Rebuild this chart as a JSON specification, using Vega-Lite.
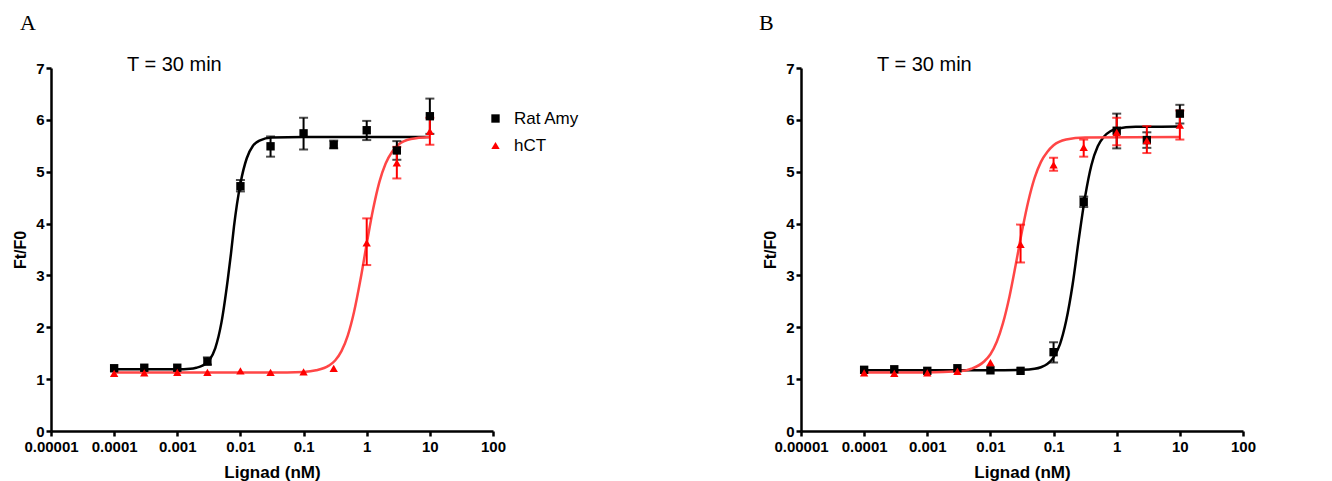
{
  "$schema": "https://vega.github.io/schema/vega-lite/v6.json",
  "padding": {"left": 12, "top": 12, "right": 5, "bottom": 2},
  "bounds": "flush",
  "spacing": 308,
  "config": {
    "view": {"stroke": null},
    "font": "Liberation Sans",
    "axis": {
      "grid": false,
      "domainColor": "#000000",
      "domainWidth": 2.5,
      "tickColor": "#000000",
      "tickWidth": 2.5,
      "tickSize": 5,
      "labelColor": "#000000",
      "labelFont": "Liberation Sans",
      "labelFontSize": 15,
      "labelFontWeight": "bold",
      "labelPadding": 2,
      "titleColor": "#000000",
      "titleFont": "Liberation Sans",
      "titleFontWeight": "bold"
    },
    "axisX": {"titleFontSize": 17, "titlePadding": 10, "labelPadding": 3, "labelFlush": false, "labelOverlap": false},
    "axisY": {"titleFontSize": 16, "titlePadding": 7},
    "legend": {
      "orient": "none",
      "legendX": 436,
      "legendY": 42,
      "padding": 0,
      "labelFont": "Liberation Sans",
      "labelFontSize": 17,
      "labelColor": "#000000",
      "labelOffset": 10,
      "rowPadding": 9,
      "symbolSize": 70,
      "symbolStrokeWidth": 0,
      "symbolOpacity": 1
    }
  },
  "datasets": {
    "ptsA": [
      {"series": "Rat Amy", "conc": 0.0001, "y": 1.21},
      {"series": "Rat Amy", "conc": 0.0003, "y": 1.22},
      {"series": "Rat Amy", "conc": 0.001, "y": 1.22},
      {"series": "Rat Amy", "conc": 0.003, "y": 1.34, "lo": 1.28, "hi": 1.42},
      {"series": "Rat Amy", "conc": 0.01, "y": 4.72, "lo": 4.62, "hi": 4.84},
      {"series": "Rat Amy", "conc": 0.03, "y": 5.49, "lo": 5.29, "hi": 5.68},
      {"series": "Rat Amy", "conc": 0.1, "y": 5.74, "lo": 5.43, "hi": 6.04},
      {"series": "Rat Amy", "conc": 0.3, "y": 5.52, "lo": 5.45, "hi": 5.6},
      {"series": "Rat Amy", "conc": 1, "y": 5.8, "lo": 5.61, "hi": 5.98},
      {"series": "Rat Amy", "conc": 3, "y": 5.41, "lo": 5.23, "hi": 5.59},
      {"series": "Rat Amy", "conc": 10, "y": 6.07, "lo": 5.73, "hi": 6.41},
      {"series": "hCT", "conc": 0.0001, "y": 1.11},
      {"series": "hCT", "conc": 0.0003, "y": 1.12},
      {"series": "hCT", "conc": 0.001, "y": 1.13},
      {"series": "hCT", "conc": 0.003, "y": 1.13},
      {"series": "hCT", "conc": 0.01, "y": 1.16},
      {"series": "hCT", "conc": 0.03, "y": 1.13},
      {"series": "hCT", "conc": 0.1, "y": 1.14},
      {"series": "hCT", "conc": 0.3, "y": 1.21},
      {"series": "hCT", "conc": 1, "y": 3.63, "lo": 3.2, "hi": 4.1},
      {"series": "hCT", "conc": 3, "y": 5.17, "lo": 4.87, "hi": 5.48},
      {"series": "hCT", "conc": 10, "y": 5.78, "lo": 5.52, "hi": 6.04}
    ],
    "ptsB": [
      {"series": "Rat Amy", "conc": 0.0001, "y": 1.18},
      {"series": "Rat Amy", "conc": 0.0003, "y": 1.19},
      {"series": "Rat Amy", "conc": 0.001, "y": 1.16},
      {"series": "Rat Amy", "conc": 0.003, "y": 1.21},
      {"series": "Rat Amy", "conc": 0.01, "y": 1.17},
      {"series": "Rat Amy", "conc": 0.03, "y": 1.16},
      {"series": "Rat Amy", "conc": 0.1, "y": 1.52, "lo": 1.32, "hi": 1.71},
      {"series": "Rat Amy", "conc": 0.3, "y": 4.42, "lo": 4.32, "hi": 4.52},
      {"series": "Rat Amy", "conc": 1, "y": 5.79, "lo": 5.45, "hi": 6.12},
      {"series": "Rat Amy", "conc": 3, "y": 5.61, "lo": 5.46, "hi": 5.76},
      {"series": "Rat Amy", "conc": 10, "y": 6.12, "lo": 5.93, "hi": 6.29},
      {"series": "hCT", "conc": 0.0001, "y": 1.12},
      {"series": "hCT", "conc": 0.0003, "y": 1.11},
      {"series": "hCT", "conc": 0.001, "y": 1.12},
      {"series": "hCT", "conc": 0.003, "y": 1.15},
      {"series": "hCT", "conc": 0.01, "y": 1.32},
      {"series": "hCT", "conc": 0.03, "y": 3.6, "lo": 3.25, "hi": 3.98},
      {"series": "hCT", "conc": 0.1, "y": 5.13, "lo": 5.02, "hi": 5.27},
      {"series": "hCT", "conc": 0.3, "y": 5.47, "lo": 5.29, "hi": 5.62},
      {"series": "hCT", "conc": 1, "y": 5.76, "lo": 5.51, "hi": 6.04},
      {"series": "hCT", "conc": 3, "y": 5.6, "lo": 5.36, "hi": 5.88},
      {"series": "hCT", "conc": 10, "y": 5.9, "lo": 5.62, "hi": 6.18}
    ],
    "fitA": [
      {"series": "Rat Amy", "conc": 0.0001, "y": 1.19},
      {"series": "Rat Amy", "conc": 0.001, "y": 1.19},
      {"series": "Rat Amy", "conc": 0.0016, "y": 1.2},
      {"series": "Rat Amy", "conc": 0.002, "y": 1.22},
      {"series": "Rat Amy", "conc": 0.0025, "y": 1.26},
      {"series": "Rat Amy", "conc": 0.0032, "y": 1.36},
      {"series": "Rat Amy", "conc": 0.004, "y": 1.6},
      {"series": "Rat Amy", "conc": 0.005, "y": 2.09},
      {"series": "Rat Amy", "conc": 0.0063, "y": 2.92},
      {"series": "Rat Amy", "conc": 0.0071, "y": 3.43},
      {"series": "Rat Amy", "conc": 0.0079, "y": 3.94},
      {"series": "Rat Amy", "conc": 0.01, "y": 4.77},
      {"series": "Rat Amy", "conc": 0.0126, "y": 5.26},
      {"series": "Rat Amy", "conc": 0.0158, "y": 5.5},
      {"series": "Rat Amy", "conc": 0.02, "y": 5.6},
      {"series": "Rat Amy", "conc": 0.0316, "y": 5.66},
      {"series": "Rat Amy", "conc": 0.1, "y": 5.67},
      {"series": "Rat Amy", "conc": 10, "y": 5.67},
      {"series": "hCT", "conc": 0.0001, "y": 1.13},
      {"series": "hCT", "conc": 0.03, "y": 1.13},
      {"series": "hCT", "conc": 0.1, "y": 1.14},
      {"series": "hCT", "conc": 0.158, "y": 1.17},
      {"series": "hCT", "conc": 0.251, "y": 1.26},
      {"series": "hCT", "conc": 0.316, "y": 1.36},
      {"series": "hCT", "conc": 0.398, "y": 1.54},
      {"series": "hCT", "conc": 0.501, "y": 1.84},
      {"series": "hCT", "conc": 0.631, "y": 2.3},
      {"series": "hCT", "conc": 0.794, "y": 2.91},
      {"series": "hCT", "conc": 1.0, "y": 3.61},
      {"series": "hCT", "conc": 1.259, "y": 4.27},
      {"series": "hCT", "conc": 1.585, "y": 4.8},
      {"series": "hCT", "conc": 1.995, "y": 5.16},
      {"series": "hCT", "conc": 2.512, "y": 5.38},
      {"series": "hCT", "conc": 3.162, "y": 5.52},
      {"series": "hCT", "conc": 5.012, "y": 5.63},
      {"series": "hCT", "conc": 10, "y": 5.67}
    ],
    "fitB": [
      {"series": "Rat Amy", "conc": 0.0001, "y": 1.17},
      {"series": "Rat Amy", "conc": 0.01, "y": 1.17},
      {"series": "Rat Amy", "conc": 0.0316, "y": 1.18},
      {"series": "Rat Amy", "conc": 0.0501, "y": 1.2},
      {"series": "Rat Amy", "conc": 0.0631, "y": 1.23},
      {"series": "Rat Amy", "conc": 0.0794, "y": 1.29},
      {"series": "Rat Amy", "conc": 0.1, "y": 1.42},
      {"series": "Rat Amy", "conc": 0.126, "y": 1.67},
      {"series": "Rat Amy", "conc": 0.158, "y": 2.12},
      {"series": "Rat Amy", "conc": 0.2, "y": 2.82},
      {"series": "Rat Amy", "conc": 0.251, "y": 3.7},
      {"series": "Rat Amy", "conc": 0.316, "y": 4.52},
      {"series": "Rat Amy", "conc": 0.398, "y": 5.13},
      {"series": "Rat Amy", "conc": 0.501, "y": 5.49},
      {"series": "Rat Amy", "conc": 0.631, "y": 5.68},
      {"series": "Rat Amy", "conc": 0.794, "y": 5.78},
      {"series": "Rat Amy", "conc": 1.0, "y": 5.83},
      {"series": "Rat Amy", "conc": 2.0, "y": 5.866},
      {"series": "Rat Amy", "conc": 10, "y": 5.87},
      {"series": "hCT", "conc": 0.0001, "y": 1.13},
      {"series": "hCT", "conc": 0.001, "y": 1.13},
      {"series": "hCT", "conc": 0.00316, "y": 1.15},
      {"series": "hCT", "conc": 0.00501, "y": 1.2},
      {"series": "hCT", "conc": 0.00794, "y": 1.34},
      {"series": "hCT", "conc": 0.01, "y": 1.48},
      {"series": "hCT", "conc": 0.0126, "y": 1.72},
      {"series": "hCT", "conc": 0.0158, "y": 2.08},
      {"series": "hCT", "conc": 0.02, "y": 2.59},
      {"series": "hCT", "conc": 0.0251, "y": 3.2},
      {"series": "hCT", "conc": 0.0316, "y": 3.85},
      {"series": "hCT", "conc": 0.0398, "y": 4.43},
      {"series": "hCT", "conc": 0.0501, "y": 4.88},
      {"series": "hCT", "conc": 0.0631, "y": 5.19},
      {"series": "hCT", "conc": 0.0794, "y": 5.38},
      {"series": "hCT", "conc": 0.1, "y": 5.51},
      {"series": "hCT", "conc": 0.158, "y": 5.62},
      {"series": "hCT", "conc": 0.316, "y": 5.66},
      {"series": "hCT", "conc": 10, "y": 5.67}
    ]
  },
  "hconcat": [
    {
      "width": 442,
      "height": 363,
      "title": {"text": "A", "anchor": "start", "frame": "group", "font": "Liberation Serif", "fontSize": 22, "fontWeight": "normal", "color": "#000000", "dx": -31, "baseline": "alphabetic", "offset": 3},
      "layer": [
        {
          "data": {"name": "fitA"},
          "transform": [{"filter": "datum.series === 'Rat Amy'"}],
          "mark": {"type": "line", "strokeWidth": 2.5, "interpolate": "monotone", "color": "#000000"},
          "encoding": {
            "x": {"field": "conc", "type": "quantitative", "title": "Lignad (nM)", "scale": {"type": "log", "domain": [0.00001, 100], "nice": false}, "axis": {"values": [0.00001, 0.0001, 0.001, 0.01, 0.1, 1, 10, 100], "format": "~g"}},
            "y": {"field": "y", "type": "quantitative", "title": "Ft/F0", "scale": {"domain": [0, 7], "nice": false}, "axis": {"values": [0, 1, 2, 3, 4, 5, 6, 7]}}
          }
        },
        {
          "data": {"name": "fitA"},
          "transform": [{"filter": "datum.series === 'hCT'"}],
          "mark": {"type": "line", "strokeWidth": 2.5, "interpolate": "monotone", "color": "#ff4646"},
          "encoding": {
            "x": {"field": "conc", "type": "quantitative", "title": "Lignad (nM)", "scale": {"type": "log", "domain": [0.00001, 100], "nice": false}, "axis": {"values": [0.00001, 0.0001, 0.001, 0.01, 0.1, 1, 10, 100], "format": "~g"}},
            "y": {"field": "y", "type": "quantitative", "title": "Ft/F0", "scale": {"domain": [0, 7], "nice": false}, "axis": {"values": [0, 1, 2, 3, 4, 5, 6, 7]}}
          }
        },
        {
          "data": {"name": "ptsA"},
          "transform": [{"filter": "isValid(datum.lo) && datum.series === 'Rat Amy'"}],
          "mark": {"type": "errorbar", "ticks": {"size": 9, "thickness": 2, "color": "#000000"}, "rule": {"strokeWidth": 2, "color": "#000000"}},
          "encoding": {
            "x": {"field": "conc", "type": "quantitative", "title": "Lignad (nM)", "scale": {"type": "log", "domain": [0.00001, 100], "nice": false}, "axis": {"values": [0.00001, 0.0001, 0.001, 0.01, 0.1, 1, 10, 100], "format": "~g"}},
            "y": {"field": "lo", "type": "quantitative", "title": "Ft/F0", "scale": {"domain": [0, 7], "nice": false}, "axis": {"values": [0, 1, 2, 3, 4, 5, 6, 7]}},
            "y2": {"field": "hi"}
          }
        },
        {
          "data": {"name": "ptsA"},
          "transform": [{"filter": "isValid(datum.lo) && datum.series === 'hCT'"}],
          "mark": {"type": "errorbar", "ticks": {"size": 9, "thickness": 2, "color": "#ff0000"}, "rule": {"strokeWidth": 2, "color": "#ff0000"}},
          "encoding": {
            "x": {"field": "conc", "type": "quantitative", "title": "Lignad (nM)", "scale": {"type": "log", "domain": [0.00001, 100], "nice": false}, "axis": {"values": [0.00001, 0.0001, 0.001, 0.01, 0.1, 1, 10, 100], "format": "~g"}},
            "y": {"field": "lo", "type": "quantitative", "title": "Ft/F0", "scale": {"domain": [0, 7], "nice": false}, "axis": {"values": [0, 1, 2, 3, 4, 5, 6, 7]}},
            "y2": {"field": "hi"}
          }
        },
        {
          "data": {"name": "ptsA"},
          "mark": {"type": "point", "filled": true, "opacity": 1, "size": 70},
          "encoding": {
            "x": {"field": "conc", "type": "quantitative", "title": "Lignad (nM)", "scale": {"type": "log", "domain": [0.00001, 100], "nice": false}, "axis": {"values": [0.00001, 0.0001, 0.001, 0.01, 0.1, 1, 10, 100], "format": "~g"}},
            "y": {"field": "y", "type": "quantitative", "title": "Ft/F0", "scale": {"domain": [0, 7], "nice": false}, "axis": {"values": [0, 1, 2, 3, 4, 5, 6, 7]}},
            "color": {"field": "series", "type": "nominal", "title": null, "scale": {"domain": ["Rat Amy", "hCT"], "range": ["#000000", "#ff0000"]}},
            "shape": {"field": "series", "type": "nominal", "title": null, "scale": {"domain": ["Rat Amy", "hCT"], "range": ["square", "triangle-up"]}}
          }
        },
        {
          "data": {"values": [{"label": "T = 30 min"}]},
          "mark": {"type": "text", "align": "left", "baseline": "alphabetic", "dy": 3, "fontSize": 20, "font": "Liberation Sans", "color": "#000000"},
          "encoding": {
            "text": {"field": "label"},
            "x": {"datum": 0.00016, "type": "quantitative", "title": "Lignad (nM)", "scale": {"type": "log", "domain": [0.00001, 100], "nice": false}, "axis": {"values": [0.00001, 0.0001, 0.001, 0.01, 0.1, 1, 10, 100], "format": "~g"}},
            "y": {"datum": 7, "type": "quantitative", "title": "Ft/F0", "scale": {"domain": [0, 7], "nice": false}, "axis": {"values": [0, 1, 2, 3, 4, 5, 6, 7]}}
          }
        }
      ]
    },
    {
      "width": 442,
      "height": 363,
      "title": {"text": "B", "anchor": "start", "frame": "group", "font": "Liberation Serif", "fontSize": 22, "fontWeight": "normal", "color": "#000000", "dx": -42, "baseline": "alphabetic", "offset": 3},
      "layer": [
        {
          "data": {"name": "fitB"},
          "transform": [{"filter": "datum.series === 'Rat Amy'"}],
          "mark": {"type": "line", "strokeWidth": 2.5, "interpolate": "monotone", "color": "#000000"},
          "encoding": {
            "x": {"field": "conc", "type": "quantitative", "title": "Lignad (nM)", "scale": {"type": "log", "domain": [0.00001, 100], "nice": false}, "axis": {"values": [0.00001, 0.0001, 0.001, 0.01, 0.1, 1, 10, 100], "format": "~g"}},
            "y": {"field": "y", "type": "quantitative", "title": "Ft/F0", "scale": {"domain": [0, 7], "nice": false}, "axis": {"values": [0, 1, 2, 3, 4, 5, 6, 7]}}
          }
        },
        {
          "data": {"name": "fitB"},
          "transform": [{"filter": "datum.series === 'hCT'"}],
          "mark": {"type": "line", "strokeWidth": 2.5, "interpolate": "monotone", "color": "#ff4646"},
          "encoding": {
            "x": {"field": "conc", "type": "quantitative", "title": "Lignad (nM)", "scale": {"type": "log", "domain": [0.00001, 100], "nice": false}, "axis": {"values": [0.00001, 0.0001, 0.001, 0.01, 0.1, 1, 10, 100], "format": "~g"}},
            "y": {"field": "y", "type": "quantitative", "title": "Ft/F0", "scale": {"domain": [0, 7], "nice": false}, "axis": {"values": [0, 1, 2, 3, 4, 5, 6, 7]}}
          }
        },
        {
          "data": {"name": "ptsB"},
          "transform": [{"filter": "isValid(datum.lo) && datum.series === 'Rat Amy'"}],
          "mark": {"type": "errorbar", "ticks": {"size": 9, "thickness": 2, "color": "#000000"}, "rule": {"strokeWidth": 2, "color": "#000000"}},
          "encoding": {
            "x": {"field": "conc", "type": "quantitative", "title": "Lignad (nM)", "scale": {"type": "log", "domain": [0.00001, 100], "nice": false}, "axis": {"values": [0.00001, 0.0001, 0.001, 0.01, 0.1, 1, 10, 100], "format": "~g"}},
            "y": {"field": "lo", "type": "quantitative", "title": "Ft/F0", "scale": {"domain": [0, 7], "nice": false}, "axis": {"values": [0, 1, 2, 3, 4, 5, 6, 7]}},
            "y2": {"field": "hi"}
          }
        },
        {
          "data": {"name": "ptsB"},
          "transform": [{"filter": "isValid(datum.lo) && datum.series === 'hCT'"}],
          "mark": {"type": "errorbar", "ticks": {"size": 9, "thickness": 2, "color": "#ff0000"}, "rule": {"strokeWidth": 2, "color": "#ff0000"}},
          "encoding": {
            "x": {"field": "conc", "type": "quantitative", "title": "Lignad (nM)", "scale": {"type": "log", "domain": [0.00001, 100], "nice": false}, "axis": {"values": [0.00001, 0.0001, 0.001, 0.01, 0.1, 1, 10, 100], "format": "~g"}},
            "y": {"field": "lo", "type": "quantitative", "title": "Ft/F0", "scale": {"domain": [0, 7], "nice": false}, "axis": {"values": [0, 1, 2, 3, 4, 5, 6, 7]}},
            "y2": {"field": "hi"}
          }
        },
        {
          "data": {"name": "ptsB"},
          "mark": {"type": "point", "filled": true, "opacity": 1, "size": 70},
          "encoding": {
            "x": {"field": "conc", "type": "quantitative", "title": "Lignad (nM)", "scale": {"type": "log", "domain": [0.00001, 100], "nice": false}, "axis": {"values": [0.00001, 0.0001, 0.001, 0.01, 0.1, 1, 10, 100], "format": "~g"}},
            "y": {"field": "y", "type": "quantitative", "title": "Ft/F0", "scale": {"domain": [0, 7], "nice": false}, "axis": {"values": [0, 1, 2, 3, 4, 5, 6, 7]}},
            "color": {"field": "series", "type": "nominal", "title": null, "scale": {"domain": ["Rat Amy", "hCT"], "range": ["#000000", "#ff0000"]}},
            "shape": {"field": "series", "type": "nominal", "title": null, "scale": {"domain": ["Rat Amy", "hCT"], "range": ["square", "triangle-up"]}}
          }
        },
        {
          "data": {"values": [{"label": "T = 30 min"}]},
          "mark": {"type": "text", "align": "left", "baseline": "alphabetic", "dy": 3, "fontSize": 20, "font": "Liberation Sans", "color": "#000000"},
          "encoding": {
            "text": {"field": "label"},
            "x": {"datum": 0.00016, "type": "quantitative", "title": "Lignad (nM)", "scale": {"type": "log", "domain": [0.00001, 100], "nice": false}, "axis": {"values": [0.00001, 0.0001, 0.001, 0.01, 0.1, 1, 10, 100], "format": "~g"}},
            "y": {"datum": 7, "type": "quantitative", "title": "Ft/F0", "scale": {"domain": [0, 7], "nice": false}, "axis": {"values": [0, 1, 2, 3, 4, 5, 6, 7]}}
          }
        }
      ]
    }
  ]
}
